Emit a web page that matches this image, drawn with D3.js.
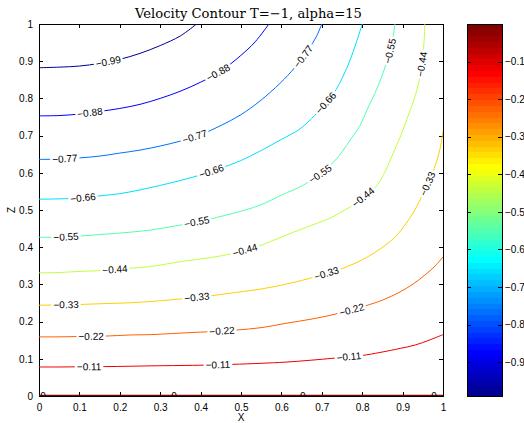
<!DOCTYPE html>
<html>
<head>
<meta charset="utf-8">
<script src="https://cdn.jsdelivr.net/npm/d3@7"></script>
<style>
  html, body { margin: 0; padding: 0; background: #fff; }
  svg { display: block; }
</style>
</head>
<body>
<svg id="chart" width="524" height="423"></svg>
<script>
// ---- data: velocity contour lines, as (x, z) points along each level ----
const levels = [-0.99, -0.88, -0.77, -0.66, -0.55, -0.44, -0.33, -0.22, -0.11, 0];

const c099 = [[0,.8825],[.05,.884],[.10,.887],[.15,.894],[.20,.905],[.25,.921],[.30,.942],[.35,.968],[.39,1.0]];
const c088 = [[0,.753],[.052,.754],[.101,.758],[.151,.765],[.2,.773],[.25,.784],[.3,.8],[.349,.819],[.399,.843],[.448,.872],[.498,.914],[.535,.952],[.569,1]];
const c077 = [[0,.636],[.052,.637],[.101,.64],[.151,.645],[.2,.653],[.25,.661],[.3,.672],[.349,.685],[.399,.702],[.448,.726],[.498,.755],[.547,.793],[.597,.841],[.634,.884],[.666,.93],[.686,.965],[.7,1]];
const c066 = [[0,.529],[.052,.53],[.101,.532],[.151,.538],[.2,.544],[.25,.554],[.3,.566],[.349,.579],[.399,.594],[.448,.612],[.498,.632],[.552,.661],[.597,.688],[.646,.718],[.683,.755],[.71,.788],[.735,.823],[.752,.858],[.77,.903],[.785,.949],[.8,1]];
const c055 = [[0,.427],[.052,.427],[.101,.43],[.151,.434],[.2,.438],[.275,.446],[.337,.457],[.399,.47],[.48,.491],[.547,.513],[.604,.542],[.646,.562],[.671,.578],[.696,.597],[.725,.624],[.75,.656],[.772,.691],[.795,.728],[.814,.774],[.832,.815],[.847,.855],[.859,.892],[.869,.927],[.876,.962],[.881,1]];
const c044 = [[0,.331],[.052,.332],[.101,.335],[.151,.337],[.22,.343],[.275,.348],[.356,.362],[.423,.372],[.48,.383],[.542,.402],[.604,.429],[.658,.452],[.72,.478],[.757,.5],[.782,.516],[.807,.538],[.819,.548],[.832,.56],[.844,.578],[.859,.608],[.876,.651],[.894,.696],[.911,.745],[.926,.79],[.936,.825],[.943,.858],[.949,.901],[.953,.949],[.955,1]];
const c033 = [[0,.244],[.052,.245],[.101,.246],[.151,.248],[.233,.251],[.3,.256],[.361,.262],[.423,.269],[.485,.278],[.552,.288],[.621,.303],[.683,.32],[.743,.34],[.77,.351],[.8,.366],[.844,.395],[.881,.427],[.906,.46],[.926,.492],[.941,.522],[.953,.548],[.963,.573],[.973,.598],[.983,.626],[.99,.653],[.995,.677],[1,.712]];
const c022 = [[0,.159],[.052,.159],[.101,.16],[.163,.161],[.225,.164],[.275,.165],[.349,.169],[.423,.173],[.485,.177],[.552,.184],[.609,.195],[.676,.207],[.745,.223],[.807,.242],[.851,.258],[.894,.28],[.926,.301],[.955,.325],[.98,.349],[1,.374]];
const c011 = [[0,.078],[.052,.078],[.101,.0785],[.163,.079],[.225,.08],[.275,.081],[.349,.082],[.411,.083],[.478,.085],[.552,.088],[.609,.091],[.671,.096],[.733,.102],[.8,.109],[.844,.117],[.894,.128],[.931,.137],[.968,.151],[1,.165]];
const c000 = [[0,0],[1,0]];

// inline label anchors (x, z) for each level
const lab099 = [[.171,.901]];
const lab088 = [[.126,.762],[.443,.870]];
const lab077 = [[.064,.637],[.386,.695],[.656,.911]];
const lab066 = [[.109,.532],[.431,.591],[.710,.788]];
const lab055 = [[.067,.427],[.391,.466],[.696,.597],[.871,.927]];
const lab044 = [[.188,.340],[.510,.392],[.804,.532],[.948,.892]];
const lab033 = [[.067,.245],[.391,.263],[.713,.325],[.964,.569]];
const lab022 = [[.129,.159],[.453,.175],[.775,.228]];
const lab011 = [[.124,.078],[.443,.083],[.767,.106]];
const lab000 = [[.01,0],[.334,0],[.653,0],[.978,0]];

const xTicks = [0, .1, .2, .3, .4, .5, .6, .7, .8, .9, 1];
const zTicks = [0, .1, .2, .3, .4, .5, .6, .7, .8, .9, 1];
const cbarTicks = [-0.9, -0.8, -0.7, -0.6, -0.5, -0.4, -0.3, -0.2, -0.1];
const colorRange = [-0.99, 0];

const title = "Velocity Contour T=\u22121, alpha=15";
const xLabel = "X";
const zLabel = "Z";

const lineSets = [c099, c088, c077, c066, c055, c044, c033, c022, c011, c000];
const labelSets = [lab099, lab088, lab077, lab066, lab055, lab044, lab033, lab022, lab011, lab000];
const contours = levels.map((lv, i) => ({ level: lv, pts: lineSets[i], labels: labelSets[i] }));

// ---- layout ----
const plot = { left: 39, top: 24, right: 443, bottom: 396 };
const bar = { left: 467, right: 502 };
const FONT = "'Liberation Sans', Arial, Helvetica, sans-serif";
const fmtMinus = v => (v < 0 ? "\u2212" : "") + Math.abs(v).toString();
const fmtTick = v => (v === 0 || v === 1) ? String(v) : v.toFixed(1);

const svg = d3.select("#chart");
const x = d3.scaleLinear().domain([0, 1]).range([plot.left, plot.right]);
const z = d3.scaleLinear().domain([0, 1]).range([plot.bottom, plot.top]);
const cy = d3.scaleLinear().domain(colorRange).range([plot.bottom, plot.top]);

// MATLAB-style jet colormap
function jetMap(m) {
  const n = Math.ceil(m / 4);
  const u = [];
  for (let k = 1; k <= n; k++) u.push(k / n);
  for (let k = 1; k < n; k++) u.push(1);
  for (let k = n; k >= 1; k--) u.push(k / n);
  const off = Math.ceil(n / 2) - (m % 4 === 1 ? 1 : 0);
  const J = Array.from({ length: m }, () => [0, 0, 0]);
  u.forEach((v, k) => {
    const g = off + k, r = g + n, b = g - n;
    if (g < m) J[g][1] = v;
    if (r < m) J[r][0] = v;
    if (b >= 0) J[b][2] = v;
  });
  return J.map(c => d3.rgb(c[0] * 255, c[1] * 255, c[2] * 255).toString());
}
const NC = 64;
const cmap = jetMap(NC);
const levelColor = v => {
  const t = (v - colorRange[0]) / (colorRange[1] - colorRange[0]);
  return cmap[Math.max(0, Math.min(NC - 1, Math.floor(t * NC + 1e-9)))];
};

// ---- axes frame and ticks (drawn beneath the data) ----
const axesG = svg.append("g").attr("font-family", FONT).attr("font-size", 10);

axesG.append("rect")
  .attr("x", plot.left).attr("y", plot.top)
  .attr("width", plot.right - plot.left).attr("height", plot.bottom - plot.top)
  .attr("fill", "#fff").attr("stroke", "#000").attr("stroke-width", 1)
  .attr("shape-rendering", "crispEdges");

function styleAxis(g) {
  g.select(".domain").remove();
  g.selectAll("line").attr("stroke", "#000").attr("shape-rendering", "crispEdges");
  g.selectAll("text").attr("fill", "#000").attr("font-family", FONT).attr("font-size", 10);
}

axesG.append("g").attr("transform", `translate(0,${plot.bottom})`)
  .call(d3.axisBottom(x).tickValues(xTicks).tickFormat(fmtTick).tickSize(-4).tickPadding(8))
  .call(styleAxis);
axesG.append("g").attr("transform", `translate(0,${plot.top})`)
  .call(d3.axisTop(x).tickValues(xTicks).tickFormat("").tickSize(-4))
  .call(styleAxis);
axesG.append("g").attr("transform", `translate(${plot.left},0)`)
  .call(d3.axisLeft(z).tickValues(zTicks).tickFormat(fmtTick).tickSize(-4).tickPadding(6))
  .call(styleAxis);
axesG.append("g").attr("transform", `translate(${plot.right},0)`)
  .call(d3.axisRight(z).tickValues(zTicks).tickFormat("").tickSize(-4))
  .call(styleAxis);

// ---- contour lines ----
svg.append("defs").append("clipPath").attr("id", "plotClip")
  .append("rect")
  .attr("x", plot.left).attr("y", plot.top)
  .attr("width", plot.right - plot.left).attr("height", plot.bottom - plot.top);

const dataG = svg.append("g").attr("clip-path", "url(#plotClip)");
const line = d3.line().x(d => x(d[0])).y(d => z(d[1])).curve(d3.curveCatmullRom.alpha(0.5));

dataG.selectAll("path.contour")
  .data(contours)
  .join("path")
  .attr("class", "contour")
  .attr("d", d => line(d.pts))
  .attr("fill", "none")
  .attr("stroke", d => levelColor(d.level))
  .attr("stroke-width", d => d.level === 0 ? 2.5 : 1);

// place a label on the nearest point of its contour, along the local tangent
function anchorOn(pts, a) {
  const P = pts.map(p => [x(p[0]), z(p[1])]);
  const q = [x(a[0]), z(a[1])];
  let best = null;
  for (let i = 0; i < P.length - 1; i++) {
    const [x1, y1] = P[i], [x2, y2] = P[i + 1];
    const dx = x2 - x1, dy = y2 - y1, L2 = dx * dx + dy * dy;
    let t = L2 ? ((q[0] - x1) * dx + (q[1] - y1) * dy) / L2 : 0;
    t = Math.max(0, Math.min(1, t));
    const px = x1 + t * dx, py = y1 + t * dy;
    const dist = (px - q[0]) ** 2 + (py - q[1]) ** 2;
    if (!best || dist < best.dist) best = { px, py, dist, ang: Math.atan2(dy, dx) * 180 / Math.PI };
  }
  let ang = best.ang;
  if (ang > 90) ang -= 180;
  if (ang < -90) ang += 180;
  return { px: best.px, py: best.py, ang };
}

const labelData = [];
contours.forEach(c => c.labels.forEach(a => {
  const p = anchorOn(c.pts, a);
  labelData.push({ level: c.level, ...p, text: c.level === 0 ? "0" : fmtMinus(c.level) });
}));

const labG = dataG.selectAll("g.clabel")
  .data(labelData)
  .join("g")
  .attr("class", "clabel")
  .attr("transform", d => `translate(${d.px},${d.py}) rotate(${d.level === 0 ? 0 : d.ang})`);

const gaps = labG.append("rect").attr("fill", "#fff");
const texts = labG.append("text")
  .attr("text-anchor", "middle")
  .attr("dy", "0.35em")
  .attr("font-family", FONT)
  .attr("font-size", 10)
  .attr("fill", "#000")
  .text(d => d.text);
texts.each(function (d) { d.w = this.getComputedTextLength(); });
gaps.attr("x", d => -d.w / 2 - 2).attr("y", -4.5)
  .attr("width", d => d.w + 4).attr("height", 9)
  .attr("display", d => d.level === 0 ? "none" : null);

// ---- colorbar ----
const barG = svg.append("g").attr("font-family", FONT).attr("font-size", 10);
const step = (colorRange[1] - colorRange[0]) / NC;
barG.selectAll("rect.band")
  .data(d3.range(NC))
  .join("rect")
  .attr("class", "band")
  .attr("x", bar.left)
  .attr("width", bar.right - bar.left)
  .attr("y", i => cy(colorRange[0] + (i + 1) * step))
  .attr("height", i => cy(colorRange[0] + i * step) - cy(colorRange[0] + (i + 1) * step) + 0.5)
  .attr("fill", i => cmap[i])
  .attr("shape-rendering", "crispEdges");
barG.append("rect")
  .attr("x", bar.left).attr("y", plot.top)
  .attr("width", bar.right - bar.left).attr("height", plot.bottom - plot.top)
  .attr("fill", "none").attr("stroke", "#000").attr("shape-rendering", "crispEdges");
barG.append("g").attr("transform", `translate(${bar.right},0)`)
  .call(d3.axisRight(cy).tickValues(cbarTicks).tickFormat(fmtMinus).tickSize(-4).tickPadding(3))
  .call(styleAxis);
barG.append("g").attr("transform", `translate(${bar.left},0)`)
  .call(d3.axisLeft(cy).tickValues(cbarTicks).tickFormat("").tickSize(-4))
  .call(styleAxis);

// ---- titles ----
const titleText = svg.append("text")
  .attr("x", 135).attr("y", 17.5)
  .attr("font-family", "'DejaVu Serif', 'Liberation Serif', serif")
  .attr("font-size", 13)
  .attr("fill", "#000")
  .text(title);
const tw = titleText.node().getComputedTextLength();
titleText.attr("font-size", 13 * 227 / tw);

svg.append("text")
  .attr("x", (plot.left + plot.right) / 2).attr("y", 421)
  .attr("text-anchor", "middle")
  .attr("font-family", FONT).attr("font-size", 10).attr("fill", "#000")
  .text(xLabel);
svg.append("text")
  .attr("transform", `translate(15,210) rotate(-90)`)
  .attr("text-anchor", "middle")
  .attr("font-family", FONT).attr("font-size", 10).attr("fill", "#000")
  .text(zLabel);
</script>
</body>
</html>
